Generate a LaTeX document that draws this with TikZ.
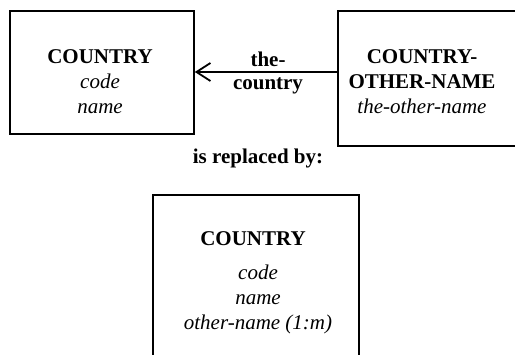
\documentclass[tikz,border=0pt]{standalone}
\usepackage{fontspec}
\setmainfont{Liberation Serif}
\usetikzlibrary{arrows.meta}
\begin{document}
\begin{tikzpicture}[x=1pt,y=-1pt,
  entbox/.style={draw, line width=1.8pt, rectangle, inner sep=0pt},
  ent/.style={font=\fontsize{21}{25}\selectfont, align=center, inner sep=0pt},
  lbl/.style={font=\fontsize{21}{22}\bfseries\selectfont, align=center, inner sep=0pt}]
\useasboundingbox (0,0) rectangle (515,355);
\clip (0,0) rectangle (515,355);
% boxes
\node[entbox, minimum width=184pt, minimum height=123pt, anchor=north west] (c1) at (9,10) {};
\node[entbox, minimum width=210pt, minimum height=135pt, anchor=north west] (c2) at (337,10) {};
\node[entbox, minimum width=206pt, minimum height=190pt, anchor=north west] (c3) at (152,194) {};
% texts
\node[ent, anchor=north] (t1) at (100,49) {\textbf{COUNTRY}\\\textit{code}\\\textit{name}};
\node[ent, anchor=north] (t2) at (422,49) {\textbf{COUNTRY-}\\\textbf{OTHER-NAME}\\\textit{the-other-name}};
\node[ent, anchor=north] (t3a) at (253,231) {\textbf{COUNTRY}};
\node[ent, anchor=north] (t3) at (258,265) {\textit{code}\\\textit{name}\\\textit{other-name (1:m)}};
\node[lbl] (rep) at (258,158) {is replaced by:};
% connector
\draw[line width=1.8pt, -{Straight Barb[length=14pt,width=18pt,line width=1.8pt]}] (c2.west |- 0,72) -- (c1.east |- 0,72);
\node[lbl] (l1) at (268,59) {the-};
\node[lbl] (l2) at (268,86) {country};
\end{tikzpicture}
\end{document}
